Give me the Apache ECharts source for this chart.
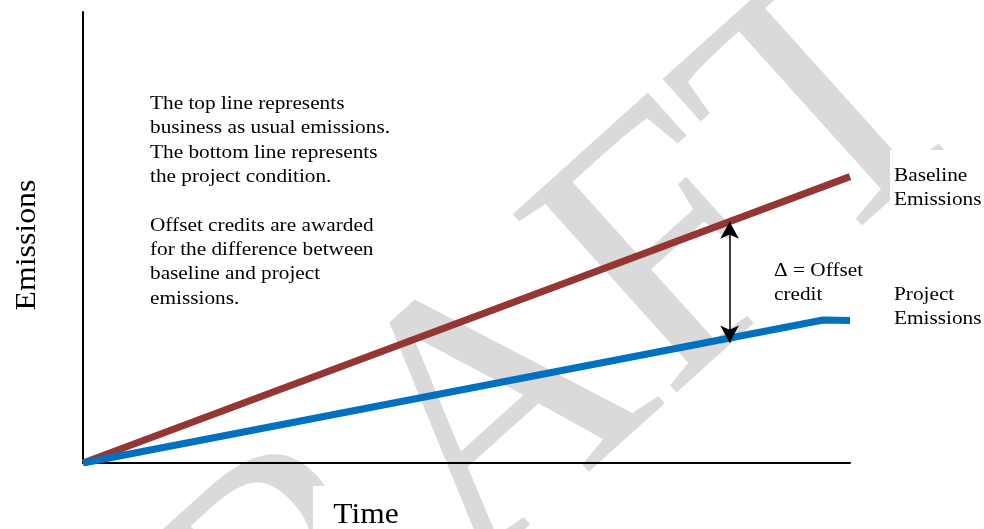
<!DOCTYPE html>
<html>
<head>
<meta charset="utf-8">
<script src="https://cdn.jsdelivr.net/npm/echarts@6/dist/echarts.min.js"></script>
<style>
html,body{margin:0;padding:0;background:#fff;}
#chart{width:984px;height:529px;}
</style>
</head>
<body>
<div id="chart"></div>
<script>
// ---- data ----
var baselineTime = [0, 10];
var baselineEmissions = [0, 63.5];
var projectTime = [0, 9.65, 10];
var projectEmissions = [0, 31.7, 31.6];
var deltaX = [8.43, 8.43];
var deltaY = [53.5, 26.7];
var yAxisTitle = 'Emissions';
var xAxisTitle = 'Time';
var baselineLabel = 'Baseline\nEmissions';
var projectLabel = 'Project\nEmissions';
var deltaLabel = '\u0394 = Offset\ncredit';
var noteText = 'The top line represents\nbusiness as usual emissions.\nThe bottom line represents\nthe project condition.\n\nOffset credits are awarded\nfor the difference between\nbaseline and project\nemissions.';
var watermark = 'DRAFT';

var serif = '"Liberation Serif", "Times New Roman", serif';
var sx = 1.12;

function pairs(xs, ys){ return xs.map(function(x,i){ return [x, ys[i]]; }); }
function note(text, x, y){
  return {type: 'text', x: x, y: y, scaleX: sx, z: 5,
    style: {text: text, font: '19px ' + serif, lineHeight: 24.3, fill: '#000', align: 'left', verticalAlign: 'top'}};
}
function whiteBox(x, y, w, h){
  return {type: 'rect', z: -5, silent: true, shape: {x: x, y: y, width: w, height: h}, style: {fill: '#fff'}};
}

var chart = echarts.init(document.getElementById('chart'), null, {renderer:'canvas'});
chart.setOption({
  animation: false,
  backgroundColor: '#fff',
  grid: {left: 83, top: 12, right: 134, bottom: 66, containLabel: false},
  xAxis: {
    type: 'value', min: 0, max: 10,
    axisLine: {show: true, onZero: false, lineStyle: {color: '#000', width: 2}},
    axisTick: {show: false}, axisLabel: {show: false}, splitLine: {show: false}
  },
  yAxis: {
    type: 'value', min: 0, max: 100,
    axisLine: {show: true, onZero: false, lineStyle: {color: '#000', width: 2}},
    axisTick: {show: false}, axisLabel: {show: false}, splitLine: {show: false}
  },
  graphic: [
    {type: 'text', x: 472, y: 446, rotation: 42 * Math.PI / 180, z: -10, silent: true,
     style: {text: watermark, font: '370px ' + serif, fill: '#dadada', align: 'center', verticalAlign: 'middle'}},
    whiteBox(890, 150, 94, 73),
    whiteBox(313, 486, 110, 43),
    whiteBox(768, 252, 100, 52),
    whiteBox(890, 272, 94, 62),
    {type: 'text', x: 27, y: 245, rotation: Math.PI/2, scaleX: 1.06, z: 5,
     style: {text: yAxisTitle, font: '30px ' + serif, fill: '#000', align: 'center', verticalAlign: 'middle'}},
    {type: 'text', x: 366, y: 515, scaleX: 1.05, z: 5,
     style: {text: xAxisTitle, font: '30px ' + serif, fill: '#000', align: 'center', verticalAlign: 'middle'}},
    note(noteText, 150, 92),
    note(baselineLabel, 894, 164),
    note(projectLabel, 894, 283),
    note(deltaLabel, 774, 259)
  ],
  series: [
    {
      name: 'Baseline Emissions', type: 'line', data: pairs(baselineTime, baselineEmissions),
      showSymbol: false, symbol: 'none', lineStyle: {color: '#943634', width: 7, cap: 'butt'}, z: 3,
      markLine: {
        silent: true, symbol: ['arrow', 'arrow'], symbolSize: [14, 17],
        lineStyle: {color: '#000', width: 1.5, type: 'solid'}, label: {show: false},
        data: [[{coord: [deltaX[0], deltaY[0]]}, {coord: [deltaX[1], deltaY[1]]}]]
      }
    },
    {
      name: 'Project Emissions', type: 'line', data: pairs(projectTime, projectEmissions),
      showSymbol: false, symbol: 'none', lineStyle: {color: '#0070C0', width: 7, cap: 'butt'}, z: 3
    }
  ]
});
</script>
</body>
</html>
